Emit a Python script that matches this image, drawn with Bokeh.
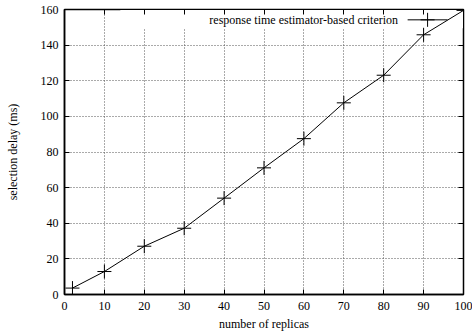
from bokeh.plotting import figure
from bokeh.models import (LinearAxis, FixedTicker, Range1d, BoxAnnotation, Label,
                          CustomJSTickFormatter)
from bokeh.embed import file_html
from bokeh.resources import INLINE

# number of replicas vs. selection delay
replicas = [2, 10, 20, 30, 40, 50, 60, 70, 80, 90, 100]
delay_ms = [3.6, 12.9, 27.1, 37.2, 54.1, 71.1, 87.5, 107.6, 123.1, 145.8, 159.5]
x_ticks = [0, 10, 20, 30, 40, 50, 60, 70, 80, 90, 100]
y_ticks = [0, 20, 40, 60, 80, 100, 120, 140, 160]
series_name = "response time estimator-based criterion"

FONT = "Liberation Serif"
FS = "12px"

p = figure(width=472, height=334, output_backend="svg", toolbar_location=None,
           x_range=Range1d(0, 100), y_range=Range1d(0, 160),
           min_border_left=64, min_border_right=9, min_border_top=9,
           min_border_bottom=40)
p.background_fill_color = "white"
p.border_fill_color = "white"
p.outline_line_color = "black"
p.outline_line_width = 1.5

for ax, ticks in ((p.xaxis[0], x_ticks), (p.yaxis[0], y_ticks)):
    ax.ticker = FixedTicker(ticks=ticks)
    ax.major_tick_in = 5
    ax.major_tick_out = 0
    ax.minor_tick_line_color = None
    ax.axis_line_color = "black"
    ax.axis_line_width = 1.5
    ax.major_tick_line_color = "black"
    ax.major_label_text_font = FONT
    ax.major_label_text_font_size = FS
    ax.major_label_text_color = "black"
    ax.axis_label_text_font = FONT
    ax.axis_label_text_font_size = FS
    ax.axis_label_text_font_style = "normal"
    ax.axis_label_text_color = "black"

p.xaxis.axis_label = "number of replicas"
p.yaxis.axis_label = "selection delay (ms)"
p.xaxis.major_label_standoff = 7
p.xaxis.axis_label_standoff = 4
p.yaxis.major_label_standoff = 6
p.yaxis.axis_label_standoff = 18

# mirrored ticks on the top and right edges, without labels
blank = CustomJSTickFormatter(code="return ''")
for loc, ticks in (("above", x_ticks), ("right", y_ticks)):
    ax = LinearAxis(ticker=FixedTicker(ticks=ticks), formatter=blank,
                    major_tick_in=5, major_tick_out=0,
                    minor_tick_line_color=None, axis_line_color="black",
                    major_label_text_font_size="1px", major_label_standoff=0)
    p.add_layout(ax, loc)

for g, ticks in ((p.xgrid[0], x_ticks), (p.ygrid[0], y_ticks)):
    g.ticker = FixedTicker(ticks=ticks[1:-1])
    g.grid_line_color = "#555555"
    g.grid_line_dash = "1 2"
    g.grid_line_width = 1
    g.level = "image"

# key area: blank out the grid behind it
p.add_layout(BoxAnnotation(left=14, right=100, bottom=149.5, top=160,
                           fill_color="white", fill_alpha=1,
                           line_color=None, level="underlay"))

p.line(replicas, delay_ms, line_color="black", line_width=1)
p.scatter(replicas, delay_ms, marker="cross", size=14, line_color="black",
          line_width=1)

# key: label on the left, sample on the right
key_y = 154.2
p.add_layout(Label(x=83.6, y=key_y, text=series_name, text_align="right",
                   text_baseline="middle", text_font=FONT, text_font_size=FS,
                   text_color="black"))
p.line([86, 96], [key_y, key_y], line_color="black", line_width=1)
p.scatter([91], [key_y], marker="cross", size=14, line_color="black",
          line_width=1)

open("out.html", "w").write(file_html(p, INLINE))
